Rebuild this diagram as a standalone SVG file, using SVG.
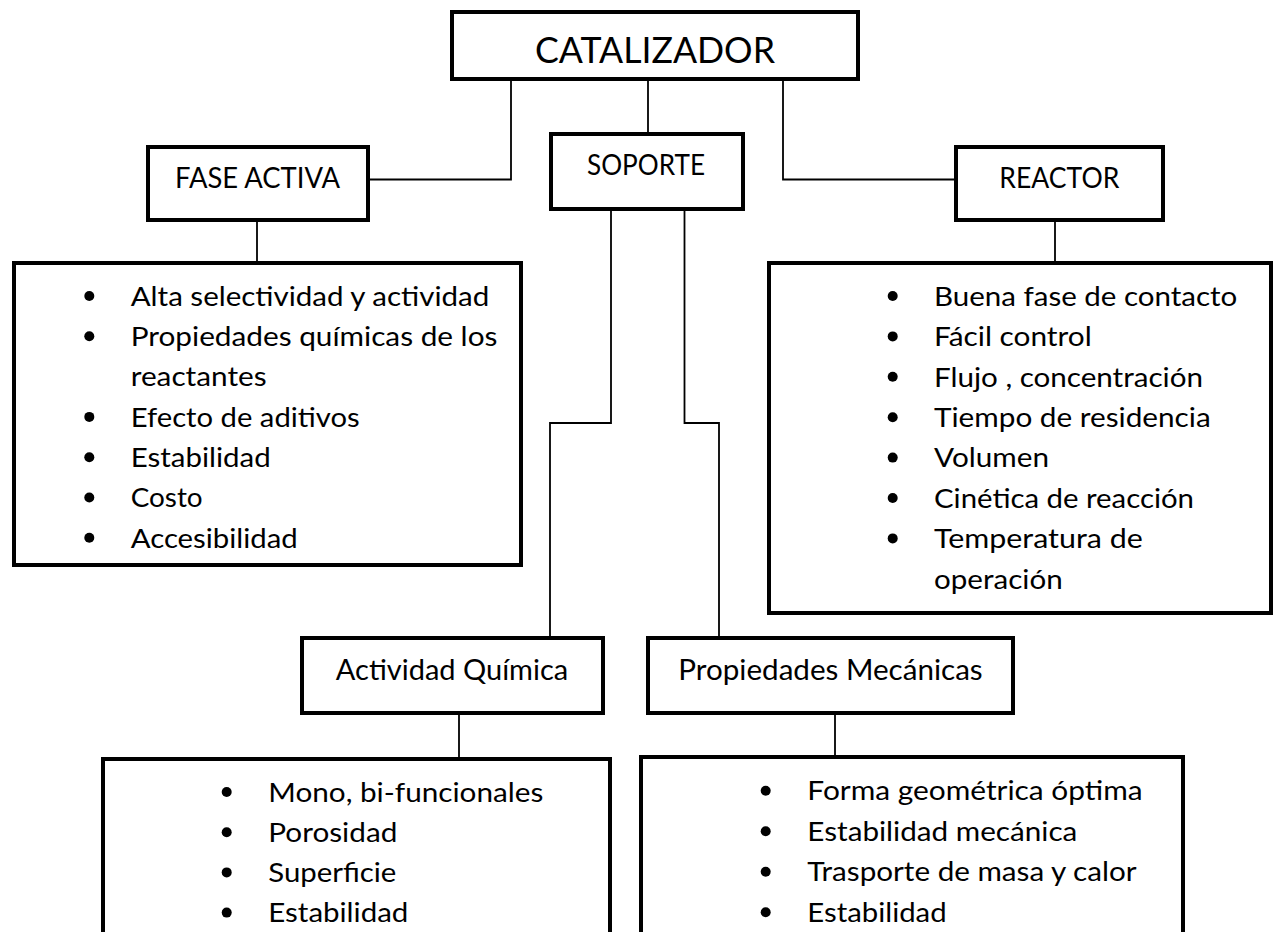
<svg xmlns="http://www.w3.org/2000/svg" width="1275" height="932" viewBox="0 0 1275 932">
<style>
.box{fill:#fff;stroke:#000;stroke-width:4}
.ln{fill:none;stroke:#000;stroke-width:1.8}
text{font-family:Lato,"Open Sans","Liberation Sans",sans-serif;fill:#000}
.t1{font-size:37.5px;text-anchor:middle}
.t2{font-size:29px;text-anchor:middle}
.b{font-size:27.5px}
.dot{fill:#000}
</style>
<rect width="1275" height="932" fill="#fff"/>
<g id="connectors">
<path class="ln" d="M511 81 V179.5 H370"/>
<path class="ln" d="M648 81 V132"/>
<path class="ln" d="M783 81 V179.5 H954"/>
<path class="ln" d="M257 222 V261"/>
<path class="ln" d="M1055 222 V261"/>
<path class="ln" d="M611 211 V423 H550 V636"/>
<path class="ln" d="M684.5 211 V423 H719 V636"/>
<path class="ln" d="M459 715 V757"/>
<path class="ln" d="M835 715 V755"/>
</g>
<g id="catalizador">
<rect class="box" x="452" y="12" width="406" height="67"/>
<text class="t1" x="655" y="63" textLength="240" lengthAdjust="spacingAndGlyphs">CATALIZADOR</text>
</g>
<g id="soporte">
<rect class="box" x="551" y="134" width="192" height="75"/>
<text class="t2" x="646" y="175" textLength="118" lengthAdjust="spacingAndGlyphs">SOPORTE</text>
</g>
<g id="fase-activa">
<rect class="box" x="148" y="147" width="220" height="73"/>
<text class="t2" x="257.5" y="188.3" textLength="165" lengthAdjust="spacingAndGlyphs">FASE ACTIVA</text>
</g>
<g id="reactor">
<rect class="box" x="956" y="147" width="207" height="73"/>
<text class="t2" x="1059.3" y="188" textLength="120" lengthAdjust="spacingAndGlyphs">REACTOR</text>
</g>
<g id="fase-activa-lista">
<rect class="box" x="14" y="263" width="507" height="302"/>
<circle class="dot" cx="89.3" cy="296" r="5"/>
<circle class="dot" cx="89.3" cy="336.3" r="5"/>
<circle class="dot" cx="89.3" cy="416.9" r="5"/>
<circle class="dot" cx="89.3" cy="457.2" r="5"/>
<circle class="dot" cx="89.3" cy="497.5" r="5"/>
<circle class="dot" cx="89.3" cy="537.8" r="5"/>
<text class="b" x="130.7" y="305.7" textLength="358.6" lengthAdjust="spacingAndGlyphs">Alta selectividad y actividad</text>
<text class="b" x="130.7" y="346" textLength="366.7" lengthAdjust="spacingAndGlyphs">Propiedades químicas de los</text>
<text class="b" x="130.7" y="386.3" textLength="136" lengthAdjust="spacingAndGlyphs">reactantes</text>
<text class="b" x="130.7" y="426.6" textLength="229" lengthAdjust="spacingAndGlyphs">Efecto de aditivos</text>
<text class="b" x="130.7" y="466.9" textLength="140" lengthAdjust="spacingAndGlyphs">Estabilidad</text>
<text class="b" x="130.7" y="507.2" textLength="72" lengthAdjust="spacingAndGlyphs">Costo</text>
<text class="b" x="130.7" y="547.5" textLength="167" lengthAdjust="spacingAndGlyphs">Accesibilidad</text>
</g>
<g id="reactor-lista">
<rect class="box" x="769" y="263" width="502" height="350"/>
<circle class="dot" cx="892.7" cy="296" r="5"/>
<circle class="dot" cx="892.7" cy="336.4" r="5"/>
<circle class="dot" cx="892.7" cy="376.8" r="5"/>
<circle class="dot" cx="892.7" cy="417.2" r="5"/>
<circle class="dot" cx="892.7" cy="457.6" r="5"/>
<circle class="dot" cx="892.7" cy="498" r="5"/>
<circle class="dot" cx="892.7" cy="538.4" r="5"/>
<text class="b" x="934" y="305.7" textLength="303.3" lengthAdjust="spacingAndGlyphs">Buena fase de contacto</text>
<text class="b" x="934" y="346.1" textLength="157.7" lengthAdjust="spacingAndGlyphs">Fácil control</text>
<text class="b" x="934" y="386.5" textLength="269" lengthAdjust="spacingAndGlyphs">Flujo , concentración</text>
<text class="b" x="934" y="426.9" textLength="276.7" lengthAdjust="spacingAndGlyphs">Tiempo de residencia</text>
<text class="b" x="934" y="467.3" textLength="115" lengthAdjust="spacingAndGlyphs">Volumen</text>
<text class="b" x="934" y="507.7" textLength="260" lengthAdjust="spacingAndGlyphs">Cinética de reacción</text>
<text class="b" x="934" y="548.1" textLength="208.7" lengthAdjust="spacingAndGlyphs">Temperatura de</text>
<text class="b" x="934" y="588.5" textLength="128.7" lengthAdjust="spacingAndGlyphs">operación</text>
</g>
<g id="actividad-quimica">
<rect class="box" x="302" y="638" width="301" height="75"/>
<text class="t2" x="452" y="680" textLength="232.3" lengthAdjust="spacingAndGlyphs">Actividad Química</text>
</g>
<g id="propiedades-mecanicas">
<rect class="box" x="648" y="638" width="365" height="75"/>
<text class="t2" x="830.5" y="680" textLength="304.3" lengthAdjust="spacingAndGlyphs">Propiedades Mecánicas</text>
</g>
<g id="actividad-quimica-lista">
<rect class="box" x="103" y="759" width="507" height="200"/>
<circle class="dot" cx="226.7" cy="792" r="5"/>
<circle class="dot" cx="226.7" cy="832.2" r="5"/>
<circle class="dot" cx="226.7" cy="872.4" r="5"/>
<circle class="dot" cx="226.7" cy="912.6" r="5"/>
<text class="b" x="268.3" y="801.7" textLength="275" lengthAdjust="spacingAndGlyphs">Mono, bi-funcionales</text>
<text class="b" x="268.3" y="841.9" textLength="129" lengthAdjust="spacingAndGlyphs">Porosidad</text>
<text class="b" x="268.3" y="882.1" textLength="128" lengthAdjust="spacingAndGlyphs">Superficie</text>
<text class="b" x="268.3" y="922.3" textLength="140" lengthAdjust="spacingAndGlyphs">Estabilidad</text>
</g>
<g id="propiedades-mecanicas-lista">
<rect class="box" x="641" y="757" width="542" height="200"/>
<circle class="dot" cx="765.7" cy="790.7" r="5"/>
<circle class="dot" cx="765.7" cy="831.2" r="5"/>
<circle class="dot" cx="765.7" cy="871.7" r="5"/>
<circle class="dot" cx="765.7" cy="912.2" r="5"/>
<text class="b" x="807.3" y="800" textLength="335.3" lengthAdjust="spacingAndGlyphs">Forma geométrica óptima</text>
<text class="b" x="807.3" y="840.5" textLength="270" lengthAdjust="spacingAndGlyphs">Estabilidad mecánica</text>
<text class="b" x="807.3" y="881" textLength="329.3" lengthAdjust="spacingAndGlyphs">Trasporte de masa y calor</text>
<text class="b" x="807.3" y="921.5" textLength="139.3" lengthAdjust="spacingAndGlyphs">Estabilidad</text>
</g>
</svg>
